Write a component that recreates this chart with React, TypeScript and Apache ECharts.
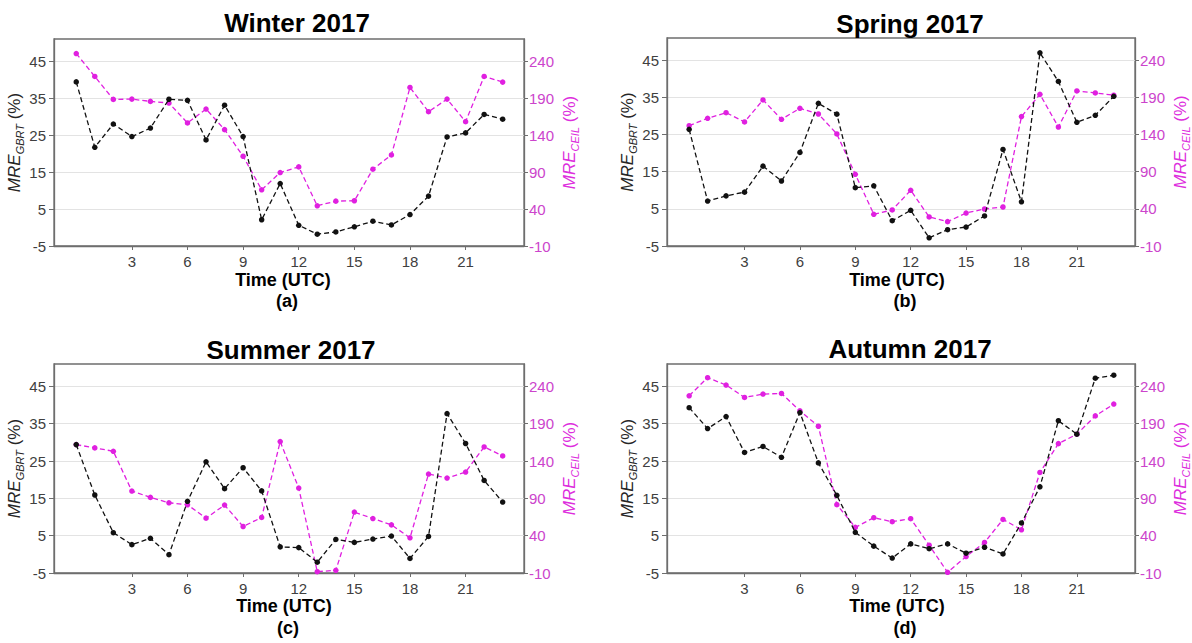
import React, { useEffect, useRef } from "react";
import * as echarts from "echarts";

const hours = [0, 1, 2, 3, 4, 5, 6, 7, 8, 9, 10, 11, 12, 13, 14, 15, 16, 17, 18, 19, 20, 21, 22, 23];

const winterGBRT = [39.4, 21.7, 28.0, 24.6, 26.9, 34.7, 34.4, 23.7, 33.1, 24.6, 2.1, 11.9, 0.6, -1.8, -1.2, 0.2, 1.7, 0.7, 3.5, 8.5, 24.5, 25.6, 30.6, 29.3];
const winterCEIL = [250.3, 219.3, 188.3, 188.7, 185.6, 183.4, 156.4, 175.3, 147.4, 111.4, 66.0, 89.4, 97.0, 44.4, 50.7, 51.2, 93.9, 113.2, 204.5, 171.7, 188.7, 158.2, 219.3, 211.7];

const springGBRT = [26.4, 7.1, 8.5, 9.5, 16.5, 12.5, 20.2, 33.4, 30.5, 10.7, 11.2, 1.8, 4.6, -2.8, -0.6, 0.1, 3.1, 21.0, 6.9, 47.0, 39.3, 28.3, 30.2, 35.3];
const springCEIL = [152.0, 161.9, 169.5, 157.0, 186.6, 160.6, 175.4, 167.7, 140.8, 86.5, 32.7, 38.5, 65.0, 29.1, 22.8, 34.4, 39.8, 42.5, 164.2, 194.2, 150.2, 198.7, 196.0, 193.0];

const summerGBRT = [29.4, 15.9, 5.8, 2.6, 4.3, -0.1, 14.2, 24.8, 17.6, 23.2, 17.0, 2.0, 1.8, -2.1, 4.0, 3.2, 4.1, 4.9, -1.1, 4.8, 37.7, 29.7, 19.8, 14.0];
const summerCEIL = [162.0, 157.6, 153.1, 99.8, 91.3, 84.1, 81.4, 63.5, 81.0, 52.3, 64.4, 166.1, 103.8, -8.2, -6.4, 71.6, 63.0, 54.5, 37.1, 122.6, 117.2, 125.3, 158.9, 146.8];

const autumnGBRT = [39.3, 33.7, 36.9, 27.3, 28.9, 26.0, 38.0, 24.5, 15.8, 5.9, 2.2, -1.0, 2.8, 1.5, 2.8, 0.3, 1.9, 0.1, 8.4, 18.1, 35.8, 32.2, 47.2, 48.0];
const autumnCEIL = [227.4, 251.7, 241.8, 225.2, 229.7, 230.6, 207.2, 186.6, 81.6, 51.1, 64.1, 58.7, 62.7, 27.3, -9.1, 12.0, 30.9, 61.8, 47.9, 124.7, 163.3, 175.9, 200.5, 216.3];

const gbrtSeries = [winterGBRT, springGBRT, summerGBRT, autumnGBRT];
const ceilSeries = [winterCEIL, springCEIL, summerCEIL, autumnCEIL];

const leftTicks = [-5, 5, 15, 25, 35, 45];
const rightTicks = [-10, 40, 90, 140, 190, 240];
const xTicks = [3, 6, 9, 12, 15, 18, 21];

const titles = ["Winter 2017", "Spring 2017", "Summer 2017", "Autumn 2017"];
const letters = ["(a)", "(b)", "(c)", "(d)"];
const xName = "Time (UTC)";

const FONT = '"Liberation Sans", Arial, sans-serif';
const AXIS_GRAY = "#6e6e6e";
const LABEL_GRAY = "#404040";
const MAGENTA = "#e020e0";
const MAGENTA_LABEL = "#cc44cc";
const MAGENTA_NAME = "#dd2edd";

const grids = [
  { left: 54, top: 39, width: 470, height: 207 },
  { left: 667, top: 38, width: 469, height: 208 },
  { left: 54, top: 364, width: 470, height: 209 },
  { left: 667, top: 364, width: 469, height: 209 },
];

const titlePos = [
  { x: 297, y: 23 },
  { x: 910, y: 24 },
  { x: 291, y: 350 },
  { x: 910, y: 349 },
];
const xNamePos = [
  { x: 283, y: 280 },
  { x: 897, y: 280 },
  { x: 284, y: 606 },
  { x: 897, y: 606 },
];
const letterPos = [
  { x: 287, y: 301 },
  { x: 905, y: 301 },
  { x: 288, y: 628 },
  { x: 905, y: 628 },
];

function nameStyle(color: string) {
  return {
    color,
    fontFamily: FONT,
    rich: {
      i: { fontStyle: "italic", fontSize: 17, lineHeight: 22, color, fontFamily: FONT },
      s: { fontStyle: "italic", fontSize: 11, lineHeight: 12, verticalAlign: "bottom", color, fontFamily: FONT },
      n: { fontSize: 17, lineHeight: 22, color, fontFamily: FONT },
    },
  };
}

export default function App() {
  const ref = useRef<HTMLDivElement>(null);

  useEffect(() => {
    if (!ref.current) return;
    const chart = echarts.init(ref.current, null, { renderer: "svg" });

    const xAxis: any[] = [];
    const yAxis: any[] = [];
    const series: any[] = [];
    const graphic: any[] = [];

    grids.forEach((g, i) => {
      xAxis.push({
        type: "value",
        gridIndex: i,
        min: -1.2,
        max: 24.15,
        axisLine: { show: true, onZero: false, lineStyle: { color: AXIS_GRAY, width: 1.3 } },
        axisTick: { show: true, customValues: xTicks, length: 4, lineStyle: { color: AXIS_GRAY } },
        axisLabel: { customValues: xTicks, margin: 8, fontSize: 15, color: LABEL_GRAY, fontFamily: FONT },
        splitLine: { show: false },
      });
      yAxis.push({
        type: "value",
        gridIndex: i,
        position: "left",
        min: -5,
        max: 51,
        axisLine: { show: true, onZero: false, lineStyle: { color: AXIS_GRAY, width: 1.3 } },
        axisTick: { show: true, customValues: leftTicks, length: 5, lineStyle: { color: AXIS_GRAY } },
        axisLabel: { customValues: leftTicks, margin: 8, fontSize: 15, color: LABEL_GRAY, fontFamily: FONT },
        splitLine: { show: true, lineStyle: { color: "#e3e3e3", width: 1 } },
        name: "{i|MRE}{s|GBRT}{n| (%)}",
        nameLocation: "middle",
        nameRotate: 90,
        nameGap: 25,
        nameTextStyle: nameStyle("#262626"),
      });
      yAxis.push({
        type: "value",
        gridIndex: i,
        position: "right",
        min: -10,
        max: 270,
        axisLine: { show: true, onZero: false, lineStyle: { color: AXIS_GRAY, width: 1.3 } },
        axisTick: { show: true, customValues: rightTicks, length: 4, lineStyle: { color: AXIS_GRAY } },
        axisLabel: { customValues: rightTicks, margin: 5, fontSize: 15, color: MAGENTA_LABEL, fontFamily: FONT },
        splitLine: { show: false },
        name: "{i|MRE}{s|CEIL}{n| (%)}",
        nameLocation: "middle",
        nameRotate: 90,
        nameGap: 34,
        nameTextStyle: nameStyle(MAGENTA_NAME),
      });

      series.push({
        type: "line",
        xAxisIndex: i,
        yAxisIndex: i * 2,
        data: hours.map((h, k) => [h, gbrtSeries[i][k]]),
        symbol: "circle",
        symbolSize: 5.5,
        itemStyle: { color: "#111111" },
        lineStyle: { color: "#111111", width: 1.3, type: [5, 3] },
        z: 3,
      });
      series.push({
        type: "line",
        xAxisIndex: i,
        yAxisIndex: i * 2 + 1,
        data: hours.map((h, k) => [h, ceilSeries[i][k]]),
        symbol: "circle",
        symbolSize: 5.5,
        itemStyle: { color: MAGENTA },
        lineStyle: { color: MAGENTA, width: 1.3, type: [5, 3] },
        z: 2,
      });

      graphic.push({
        type: "text",
        x: titlePos[i].x,
        y: titlePos[i].y,
        style: { text: titles[i], fontSize: 26, fontWeight: "bold", fontFamily: FONT, fill: "#000", align: "center", verticalAlign: "middle" },
      });
      graphic.push({
        type: "text",
        x: xNamePos[i].x,
        y: xNamePos[i].y,
        style: { text: xName, fontSize: 18, fontWeight: "bold", fontFamily: FONT, fill: "#000", align: "center", verticalAlign: "middle" },
      });
      graphic.push({
        type: "text",
        x: letterPos[i].x,
        y: letterPos[i].y,
        style: { text: letters[i], fontSize: 18, fontWeight: "bold", fontFamily: FONT, fill: "#000", align: "center", verticalAlign: "middle" },
      });
    });

    chart.setOption({
      animation: false,
      backgroundColor: "#ffffff",
      grid: grids.map((g) => ({ ...g, show: true, borderColor: AXIS_GRAY, borderWidth: 1.3, backgroundColor: "transparent" })),
      xAxis,
      yAxis,
      series,
      graphic,
    });

    return () => {
      chart.dispose();
    };
  }, []);

  return (
    <div
      ref={ref}
      style={{ position: "fixed", left: 0, top: 0, width: 1192, height: 643, background: "#fff" }}
    />
  );
}
